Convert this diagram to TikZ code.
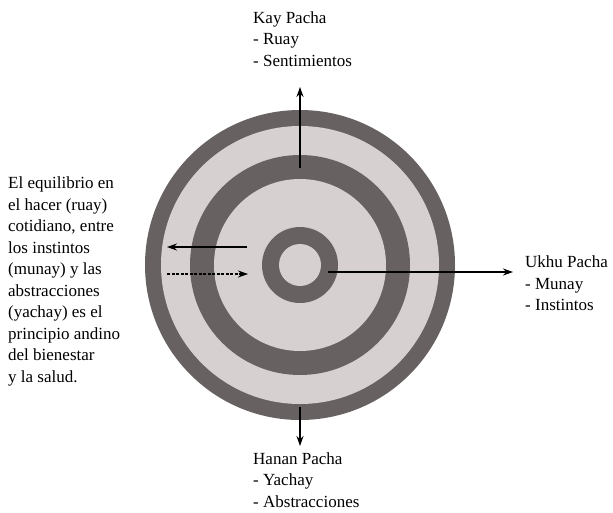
\documentclass[tikz,border=0pt]{standalone}
\usepackage{fontspec}
\setmainfont{Liberation Serif}
\usetikzlibrary{arrows.meta}
\definecolor{ringdark}{RGB}{104,97,97}
\definecolor{ringlight}{RGB}{214,208,208}

\begin{document}
\begin{tikzpicture}[x=1pt, y=-1pt, every node/.style={font=\fontsize{17}{21.5}\selectfont, inner sep=0pt, align=left, anchor=north west},
		flow/.style={line width=1.1pt, -{Stealth[length=10pt,width=7pt]}}]
		\useasboundingbox (0,0) rectangle (613,512);
		% rings, from the outside in
		\coordinate (c) at (300,265);
		\fill[ringdark] (c) circle[radius=155pt];
		\fill[ringlight] (c) circle[radius=139pt];
		\fill[ringdark] (c) circle[radius=110pt];
		\fill[ringlight] (c) circle[radius=86pt];
		\fill[ringdark] (c) circle[radius=38pt];
		\fill[ringlight] (c) circle[radius=21pt];
		% the three pachas
		\node (kay) at (253,11.5) {Kay Pacha\\- Ruay\\- Sentimientos};
		\node (hanan) at (253,452) {Hanan Pacha\\- Yachay\\- Abstracciones};
		\node (ukhu) at (525,255.5) {Ukhu Pacha\\- Munay\\- Instintos};
		\node (text) at (8,176.5) {El equilibrio en\\el hacer (ruay)\\cotidiano, entre\\los instintos\\(munay) y las\\abstracciones\\(yachay) es el\\principio andino\\del bienestar\\y la salud.};
		\coordinate (up0) at (300,168);
		\coordinate (up1) at (300,87);
		\coordinate (dn0) at (300,407);
		\coordinate (dn1) at (300,446);
		\coordinate (rt0) at (328,272);
		\coordinate (rt1) at (513,272);
		\coordinate (lt0) at (247,247);
		\coordinate (lt1) at (167,247);
		\coordinate (in0) at (167,274);
		\coordinate (in1) at (248,274);
		\draw[flow] (up0) -- (up1);
		\draw[flow] (dn0) -- (dn1);
		\draw[flow] (rt0) -- (rt1);
		\draw[flow] (lt0) -- (lt1);
		\draw[flow, dash pattern=on 3pt off 1.5pt] (in0) -- (in1);
	\end{tikzpicture}
\end{document}
